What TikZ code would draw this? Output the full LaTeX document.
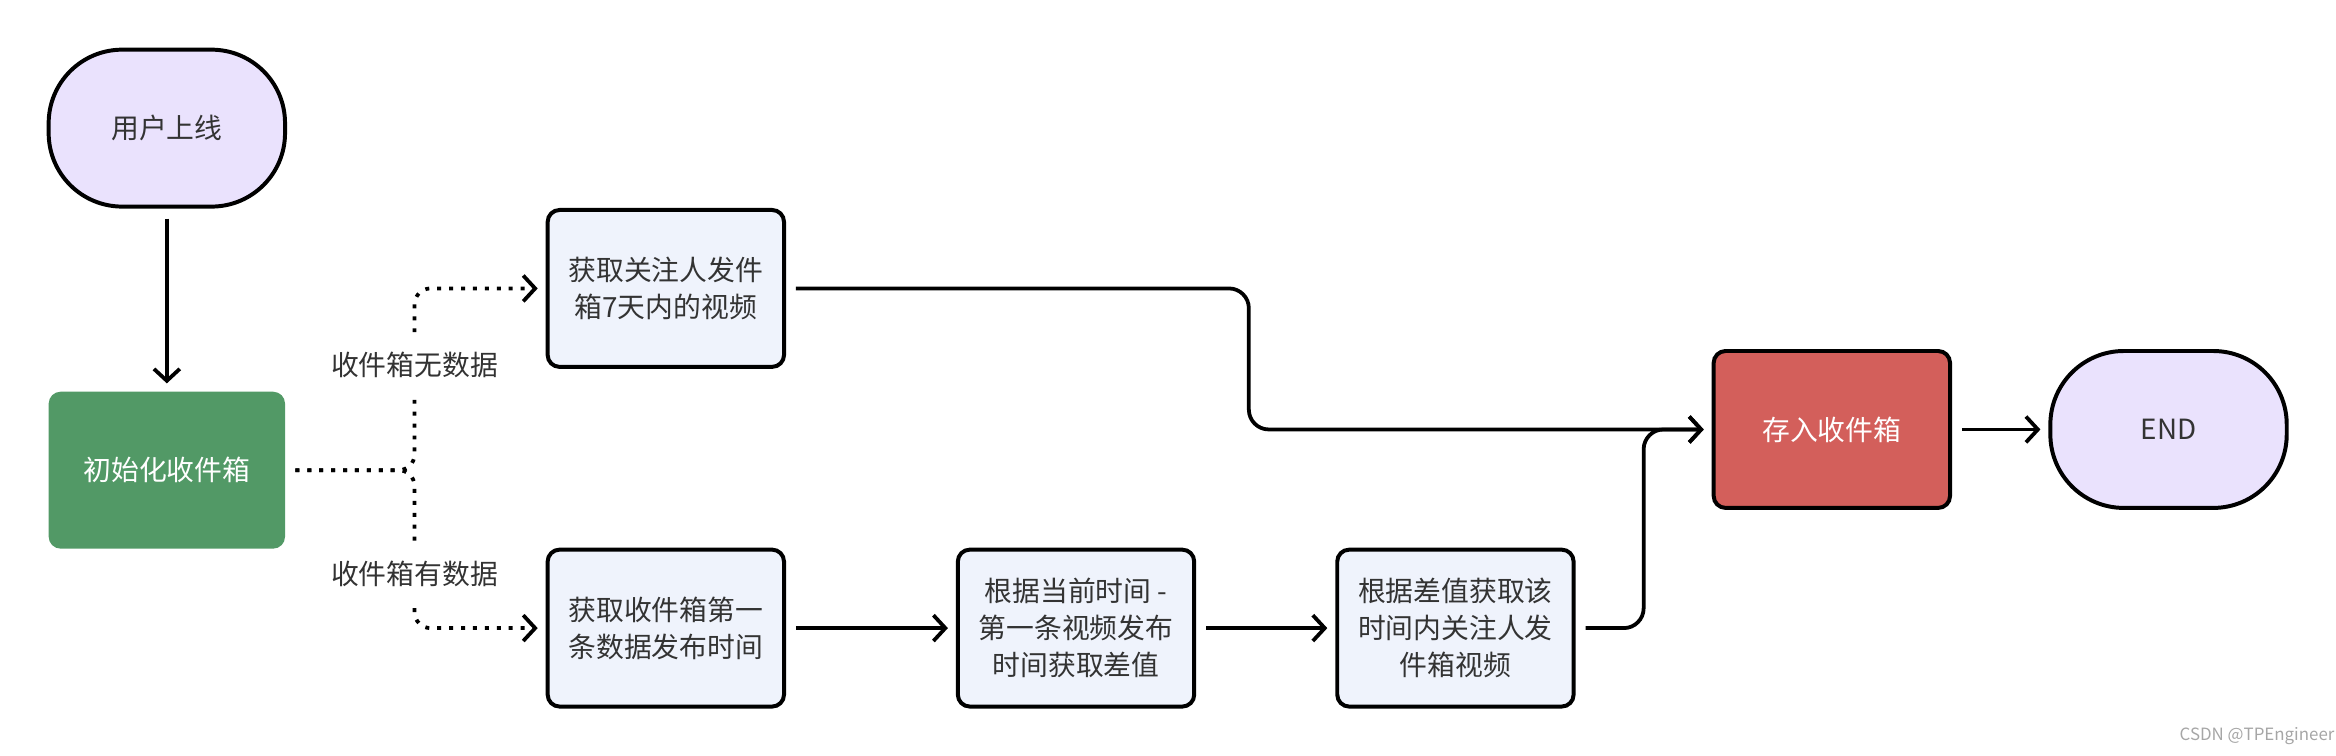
\documentclass[tikz,border=0pt]{standalone}
\usepackage{fontspec}
\setmainfont{Noto Sans CJK SC}
\usetikzlibrary{positioning,arrows.meta,calc}
\definecolor{termfill}{HTML}{EAE2FD}
\definecolor{initfill}{HTML}{529966}
\definecolor{procfill}{HTML}{EFF3FC}
\definecolor{storefill}{HTML}{D35F5B}
\definecolor{txtgray}{HTML}{333333}

\begin{document}
\begin{tikzpicture}[x=0.75pt,y=-0.75pt,
    base/.style={minimum width=119pt,minimum height=79pt,align=center,inner sep=2pt,font=\fontsize{14}{18.75}\selectfont},
    term/.style={base,draw,line width=2pt,fill=termfill,rounded corners=37pt,text=txtgray},
    initbox/.style={base,fill=initfill,rounded corners=6pt,text=white},
    proc/.style={base,draw,line width=2pt,fill=procfill,rounded corners=6pt,text=txtgray},
    storebox/.style={base,draw,line width=2pt,fill=storefill,rounded corners=6pt,text=white},
    conn/.style={line width=1.9pt,-{Straight Barb[length=6pt,width=13pt]},shorten <=5pt,shorten >=4pt},
    dotline/.style={conn,dash pattern=on 2pt off 4pt},
    branch/.style={fill=white,inner xsep=1pt,inner ysep=8pt,text=txtgray,font=\fontsize{14}{16}\selectfont}] %
    \useasboundingbox (0,0) rectangle (1568,507); %
    \node[term] (start) at (112,86) {用户上线} ; %
    \node[initbox, below=92pt of start] (init) {初始化收件箱} ; %
    \node[proc, right=131pt of init, yshift=91.5pt] (getfollow) {获取关注人发件\\箱7天内的视频} ; %
    \node[proc, right=131pt of init, yshift=-79.5pt] (getfirst) {获取收件箱第一\\条数据发布时间};
    \node[proc, right=85.5pt of getfirst] (diff) {根据当前时间 -\\第一条视频发布\\时间获取差值};
    \node[proc, right=70pt of diff] (getrange) {根据差值获取该\\时间内关注人发\\件箱视频};
    \node[storebox, right=68.5pt of getrange, yshift=100pt] (store) {存入收件箱};
    \node[term, right=48.5pt of store] (end) {END};
    \coordinate[right=65pt of init] (fork);
    \node[text=gray!70, font=\fontsize{8.5}{10}\selectfont] (mark) at (1515,494) {CSDN @TPEngineer};
    \draw [conn] (start)--(init) ; %
    \draw [dotline, rounded corners=8pt] (init)--(fork) |- (getfollow) node[branch, pos=0.29] {收件箱无数据} ;
    \draw [dotline, rounded corners=8pt] (init)--(fork) |- (getfirst) node[branch, pos=0.33] {收件箱有数据} ;
    \draw [conn, rounded corners=10pt] (getfollow.east) -| ($(getfollow.east)!0.5!(store.west)$) |- (store.west);
    \draw [conn] (getfirst)--(diff);
    \draw [conn] (diff)--(getrange);
    \draw [conn, rounded corners=10pt] (getrange.east) -| ($(getrange.east)!0.5!(store.west)$) |- (store.west);
    \draw [conn] (store)--(end);
  \end{tikzpicture}
\end{document}
